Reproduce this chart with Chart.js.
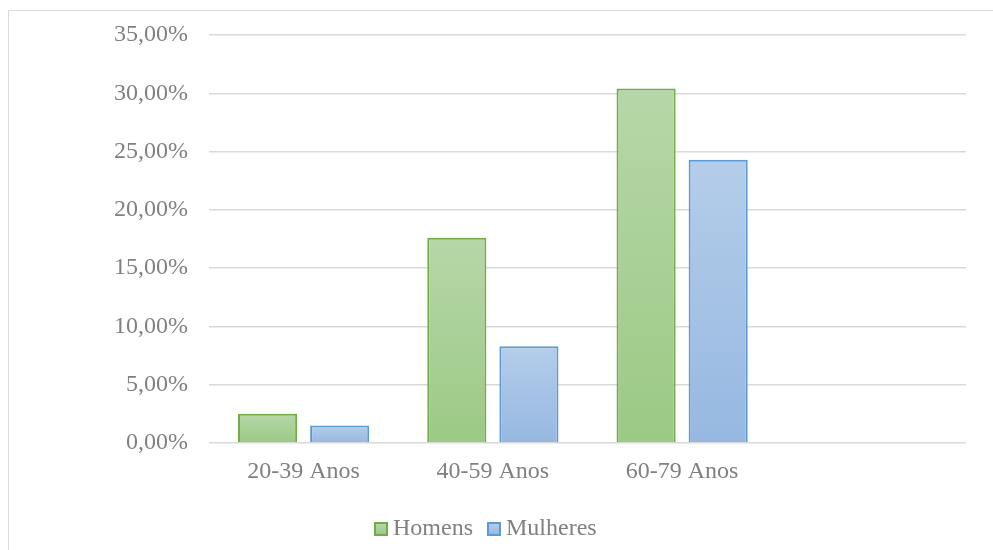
<!DOCTYPE html>
<html>
<head>
<meta charset="utf-8">
<script src="https://cdn.jsdelivr.net/npm/chart.js@4.4.1/dist/chart.umd.min.js"></script>
<style>
    html, body { margin: 0; padding: 0; background: #fff; overflow: hidden; }
    #wrap { position: relative; width: 993px; height: 550px; }
    #chart { position: absolute; left: 0; top: 0; }
    #frame { position: absolute; left: 8px; top: 10px; width: 1100px; height: 700px; border: 1.5px solid #d9d9d9; }
    #legend { position: absolute; top: 514px; left: 374px; display: flex; font-family: "Liberation Serif", Tinos, "Times New Roman", Times, "DejaVu Serif", serif; font-size: 24px; color: #808080; white-space: nowrap; }
    .item { display: flex; align-items: center; margin-right: 14px; }
    .box { width: 10px; height: 10px; border: 2px solid; margin-right: 5px; margin-top: 2px; }
</style>
</head>
<body>
<div id="wrap">
    <div id="frame"></div>
    <canvas id="chart" width="993" height="550"></canvas>
    <div id="legend"></div>
</div>
<script>
// Data
const categories = ['20-39 Anos', '40-59 Anos', '60-79 Anos', ''];
const homens = [2.5, 17.6, 30.4, null];
const mulheres = [1.5, 8.3, 24.3, null];
const seriesNames = ['Homens', 'Mulheres'];
const yTicks = [0, 5, 10, 15, 20, 25, 30, 35];

const font = { family: '"Liberation Serif", Tinos, "Times New Roman", Times, "DejaVu Serif", serif', size: 24 };
const textColor = '#808080';
const gridColor = '#d9d9d9';

// gradient per bar, lighter at top
const barFill = (top, bottom) => (ctx) => {
    const chart = ctx.chart;
    const y = chart.scales && chart.scales.y;
    if (!y || ctx.raw == null) return bottom;
    const y0 = y.getPixelForValue(ctx.raw);
    const y1 = y.getPixelForValue(0);
    if (!isFinite(y0) || !isFinite(y1) || y0 === y1) return bottom;
    const g = chart.ctx.createLinearGradient(0, y0, 0, y1);
    g.addColorStop(0, top);
    g.addColorStop(1, bottom);
    return g;
};

const colors = [
    { border: '#70ad47', top: '#b6d7a8', bottom: '#9cc985' },
    { border: '#5b9bd5', top: '#b4cdea', bottom: '#96b8e0' }
];

new Chart(document.getElementById('chart'), {
    type: 'bar',
    data: {
        labels: categories,
        datasets: [homens, mulheres].map((d, i) => ({
            label: seriesNames[i],
            data: d,
            backgroundColor: barFill(colors[i].top, colors[i].bottom),
            borderColor: colors[i].border,
            borderWidth: 2,
            categoryPercentage: 0.762,
            barPercentage: 0.82
        }))
    },
    options: {
        responsive: false,
        animation: false,
        layout: { padding: { top: 35, right: 27, bottom: 0, left: 0 } },
        plugins: {
            legend: { display: false },
            tooltip: { enabled: false }
        },
        scales: {
            x: {
                afterFit: (scale) => { scale.height = 550 - 443; },
                grid: { display: false },
                border: { display: false },
                ticks: { font: font, color: textColor, padding: 6, maxRotation: 0 }
            },
            y: {
                min: 0,
                max: 35,
                afterFit: (scale) => {
                    scale.width = 209;
                    scale.paddingTop = 0;
                    scale.paddingBottom = 0;
                },
                afterBuildTicks: (scale) => { scale.ticks = yTicks.map(v => ({ value: v })); },
                grid: { color: gridColor, lineWidth: 1.5, drawTicks: false },
                border: { display: false },
                ticks: {
                    font: font,
                    color: textColor,
                    padding: 21,
                    callback: (v) => v.toFixed(2).replace('.', ',') + '%'
                }
            }
        }
    }
});

// Legend
const legend = document.getElementById('legend');
seriesNames.forEach((name, i) => {
    const item = document.createElement('div');
    item.className = 'item';
    item.innerHTML = `<span class="box" style="border-color:${colors[i].border};background:linear-gradient(${colors[i].top},${colors[i].bottom})"></span>${name}`;
    legend.appendChild(item);
});
</script>
</body>
</html>
